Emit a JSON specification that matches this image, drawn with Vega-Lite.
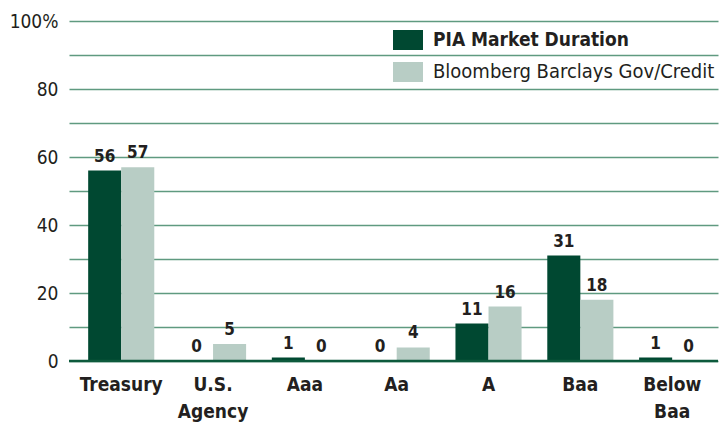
{
  "$schema": "https://vega.github.io/schema/vega-lite/v6.json",
  "autosize": "none",
  "width": 649,
  "height": 340,
  "padding": {"left": 69, "top": 21, "right": 6, "bottom": 62},
  "background": "white",
  "config": {
    "view": {"stroke": null},
    "font": "DejaVu Sans Condensed"
  },
  "data": {
    "values": [
      {"category": "Treasury", "series": "PIA Market Duration", "value": 56},
      {"category": "Treasury", "series": "Bloomberg Barclays Gov/Credit", "value": 57},
      {"category": "U.S. Agency", "series": "PIA Market Duration", "value": 0},
      {"category": "U.S. Agency", "series": "Bloomberg Barclays Gov/Credit", "value": 5},
      {"category": "Aaa", "series": "PIA Market Duration", "value": 1},
      {"category": "Aaa", "series": "Bloomberg Barclays Gov/Credit", "value": 0},
      {"category": "Aa", "series": "PIA Market Duration", "value": 0},
      {"category": "Aa", "series": "Bloomberg Barclays Gov/Credit", "value": 4},
      {"category": "A", "series": "PIA Market Duration", "value": 11},
      {"category": "A", "series": "Bloomberg Barclays Gov/Credit", "value": 16},
      {"category": "Baa", "series": "PIA Market Duration", "value": 31},
      {"category": "Baa", "series": "Bloomberg Barclays Gov/Credit", "value": 18},
      {"category": "Below Baa", "series": "PIA Market Duration", "value": 1},
      {"category": "Below Baa", "series": "Bloomberg Barclays Gov/Credit", "value": 0}
    ]
  },
  "encoding": {
    "x": {
      "field": "category",
      "type": "nominal",
      "sort": ["Treasury", "U.S. Agency", "Aaa", "Aa", "A", "Baa", "Below Baa"],
      "scale": {"paddingInner": 0.28, "paddingOuter": 0.174, "align": 0.6},
      "axis": {
        "title": null,
        "domain": false,
        "ticks": false,
        "labelAngle": 0,
        "labelFont": "DejaVu Sans Condensed",
        "labelFontWeight": "bold",
        "labelFontSize": 19,
        "labelColor": "#231f20",
        "labelPadding": 14,
        "labelLineHeight": 27,
        "labelBaseline": "top",
        "labelExpr": "split(datum.label, ' ')"
      }
    },
    "xOffset": {
      "field": "series",
      "type": "nominal",
      "sort": ["PIA Market Duration", "Bloomberg Barclays Gov/Credit"],
      "scale": {"paddingInner": 0, "paddingOuter": 0}
    },
    "y": {
      "field": "value",
      "type": "quantitative",
      "scale": {"domain": [0, 100], "nice": false},
      "axis": {
        "title": null,
        "domain": false,
        "ticks": false,
        "values": [0, 10, 20, 30, 40, 50, 60, 70, 80, 90, 100],
        "labelExpr": "datum.value == 100 ? '100%' : (datum.value % 20 == 0 ? datum.label : '')",
        "labelFontSize": 19,
        "labelColor": "#231f20",
        "labelPadding": 11,
        "gridColor": "#5f9a80",
        "gridWidth": 1.6,
        "gridOpacity": 1
      }
    }
  },
  "layer": [
    {
      "mark": {"type": "bar"},
      "encoding": {
        "color": {
          "field": "series",
          "type": "nominal",
          "sort": ["PIA Market Duration", "Bloomberg Barclays Gov/Credit"],
          "scale": {"range": ["#004831", "#b8cdc5"]},
          "legend": {
            "title": null,
            "orient": "none",
            "legendX": 329,
            "legendY": 9,
            "padding": 0,
            "symbolType": "M-1.5,-1H1.5V1H-1.5Z",
            "symbolSize": 400,
            "symbolStrokeWidth": 0,
            "symbolOpacity": 1,
            "labelFontSize": 19,
            "labelFont": "DejaVu Sans Condensed",
            "labelColor": "#231f20",
            "labelOffset": 15,
            "rowPadding": 12,
            "labelLimit": 400,
            "encode": {
              "labels": {
                "update": {
                  "fontWeight": {"signal": "datum.value === 'PIA Market Duration' ? 'bold' : 'normal'"},
                  "fontSize": {"signal": "datum.value === 'PIA Market Duration' ? 19 : 20"}
                }
              }
            }
          }
        }
      }
    },
    {
      "mark": {"type": "text", "baseline": "bottom", "dy": -5, "fontSize": 17, "fontWeight": "bold", "font": "DejaVu Sans Condensed", "color": "#231f20"},
      "encoding": {
        "text": {"field": "value", "type": "quantitative"}
      }
    },
    {
      "mark": {"type": "rule", "color": "#0d5a3c", "strokeWidth": 2.5},
      "data": {"values": [{"v": 0}]},
      "encoding": {
        "y": {"field": "v", "type": "quantitative"},
        "x": null,
        "xOffset": null
      }
    }
  ]
}
